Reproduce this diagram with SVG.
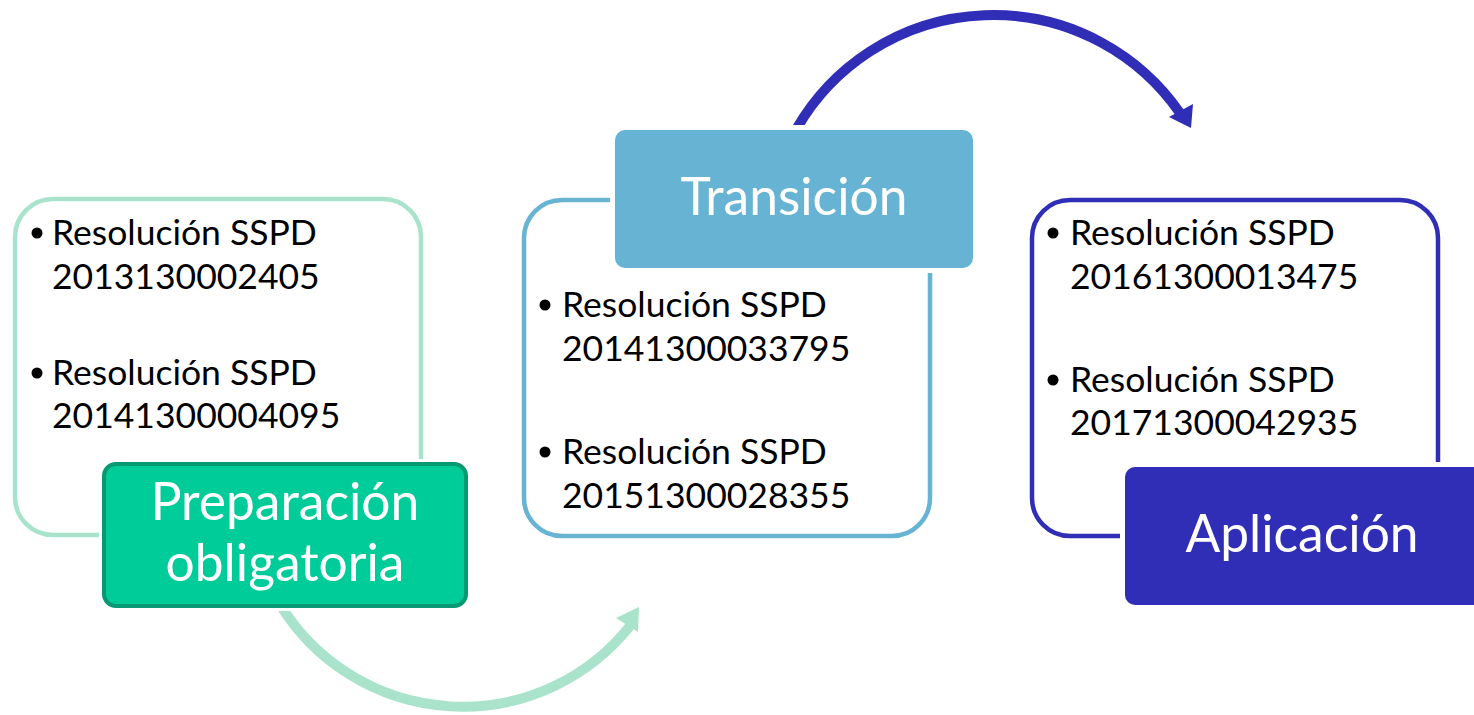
<svg xmlns="http://www.w3.org/2000/svg" width="1474" height="715" viewBox="0 0 1474 715">
<style>
.outer{fill:#fff;stroke-width:4.5}
.item{font-family:Lato,"Liberation Sans",sans-serif;font-size:35.5px;fill:#000}
.title{font-family:Lato,"Liberation Sans",sans-serif;font-size:51.5px;fill:#fff;text-anchor:middle}
.dot{fill:#000}
.halo{fill:#fff;stroke:#fff;stroke-width:10}
</style>
<rect width="1474" height="715" fill="#fff"/>
<g id="connectors">
<path d="M281 606 A214 214 0 0 0 630 626" fill="none" stroke="#A9E3CB" stroke-width="10"/>
<polygon points="639,607 616,618 638,632" fill="#A9E3CB"/>
<path d="M797 128 A227 227 0 0 1 1180 113" fill="none" stroke="#302EB6" stroke-width="10"/>
<polygon points="1191,128 1169,117 1193,104" fill="#302EB6"/>
</g>
<g id="node-preparacion">
<rect class="outer" x="15" y="199" width="406" height="336" rx="38" stroke="#A9E3CB"/>
<circle class="dot" cx="37" cy="233" r="5.5"/>
<text class="item" x="52" y="245">Resolución SSPD</text>
<text class="item" x="52" y="289">2013130002405</text>
<circle class="dot" cx="37" cy="373" r="5.5"/>
<text class="item" x="52" y="385">Resolución SSPD</text>
<text class="item" x="52" y="428">20141300004095</text>
<rect class="halo" x="104" y="464" width="362" height="142" rx="12"/>
<rect x="104" y="464" width="362" height="142" rx="12" fill="#00CC99" stroke="#079A72" stroke-width="4"/>
<text class="title" x="285" y="520">Preparación</text>
<text class="title" x="285" y="581">obligatoria</text>
</g>
<g id="node-transicion">
<rect class="outer" x="524" y="200" width="406" height="336" rx="38" stroke="#67B3D3"/>
<circle class="dot" cx="545" cy="305" r="5.5"/>
<text class="item" x="562" y="317">Resolución SSPD</text>
<text class="item" x="562" y="361">20141300033795</text>
<circle class="dot" cx="545" cy="452" r="5.5"/>
<text class="item" x="562" y="464">Resolución SSPD</text>
<text class="item" x="562" y="508">20151300028355</text>
<rect class="halo" x="615" y="130" width="358" height="138" rx="10"/>
<rect x="615" y="130" width="358" height="138" rx="10" fill="#67B3D3"/>
<text class="title" x="794" y="215">Transición</text>
</g>
<g id="node-aplicacion">
<rect class="outer" x="1032" y="200" width="406" height="336" rx="38" stroke="#302EB6"/>
<circle class="dot" cx="1053" cy="233" r="5.5"/>
<text class="item" x="1070" y="245">Resolución SSPD</text>
<text class="item" x="1070" y="289">20161300013475</text>
<circle class="dot" cx="1053" cy="380" r="5.5"/>
<text class="item" x="1070" y="392">Resolución SSPD</text>
<text class="item" x="1070" y="435">20171300042935</text>
<rect class="halo" x="1125" y="467" width="360" height="138" rx="10"/>
<rect x="1125" y="467" width="360" height="138" rx="10" fill="#302EB6"/>
<text class="title" x="1302" y="552">Aplicación</text>
</g>
</svg>
